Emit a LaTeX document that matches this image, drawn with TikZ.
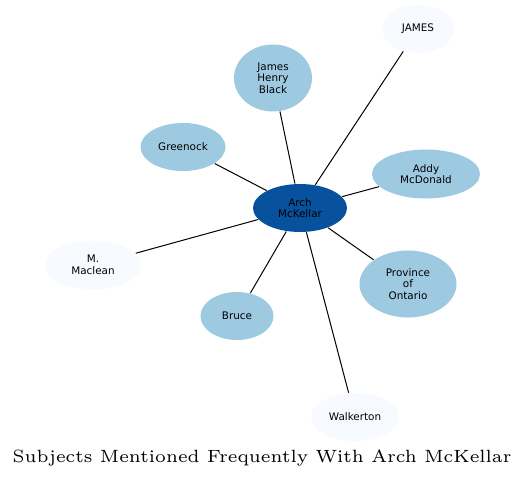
\documentclass[tikz,border=0pt]{standalone}
\usepackage{fontspec}
\usepackage{xcolor}
\usepackage{tikz}
\usetikzlibrary{shapes.geometric}
\newfontfamily\labelfont{DejaVu Sans}
\newfontfamily\titlefont{lmroman6-regular.otf}
\definecolor{bluedark}{HTML}{08519C}
\definecolor{bluemid}{HTML}{9ECAE1}
\definecolor{bluepale}{HTML}{F7FBFF}
\tikzstyle{centered} = [align=center, text centered, font=\labelfont\fontsize{7.8}{8.75}\selectfont]
\tikzstyle{enode} = [centered, ellipse, inner sep=0pt, minimum width=54pt, minimum height=36pt]
\tikzstyle{hub} = [enode, fill=bluedark]
\tikzstyle{often} = [enode, fill=bluemid]
\tikzstyle{rare} = [enode, fill=bluepale]

\begin{document}
\begin{tikzpicture}
            [x=0.75pt,y=-0.75pt,line width=0.75pt]
              \useasboundingbox (0,0) rectangle (525,478);
              \node [hub, minimum width=70.5pt](arch) at (300, 208) {Arch\\McKellar};
              \node [rare](james) at (418, 29) {JAMES};
              \node [often, minimum width=58.5pt, minimum height=50.25pt](black) at (273, 78) {James\\Henry\\Black};
              \node [often, minimum width=63.75pt](greenock) at (183, 147) {Greenock};
              \node [often, minimum width=81pt, minimum height=36.75pt](addy) at (426, 174) {Addy\\McDonald};
              \node [rare, minimum width=72pt, minimum height=36.75pt](maclean) at (93, 265) {M.\\Maclean};
              \node [often, minimum width=72.75pt, minimum height=50.25pt](ontario) at (408, 284) {Province\\of\\Ontario};
              \node [often, minimum width=54.75pt](bruce) at (237, 316) {Bruce};
              \node [rare, minimum width=66pt](walkerton) at (355, 417) {Walkerton};

              \draw (arch) -- (james);
              \draw (arch) -- (black);
              \draw (arch) -- (greenock);
              \draw (arch) -- (addy);
              \draw (arch) -- (maclean);
              \draw (arch) -- (ontario);
              \draw (arch) -- (bruce);
              \draw (arch) -- (walkerton);

              \node [anchor=base, font=\titlefont\fontsize{13.3}{16}\selectfont](title) at (262, 462) {Subjects Mentioned Frequently With Arch McKellar};
            \end{tikzpicture}
\end{document}
